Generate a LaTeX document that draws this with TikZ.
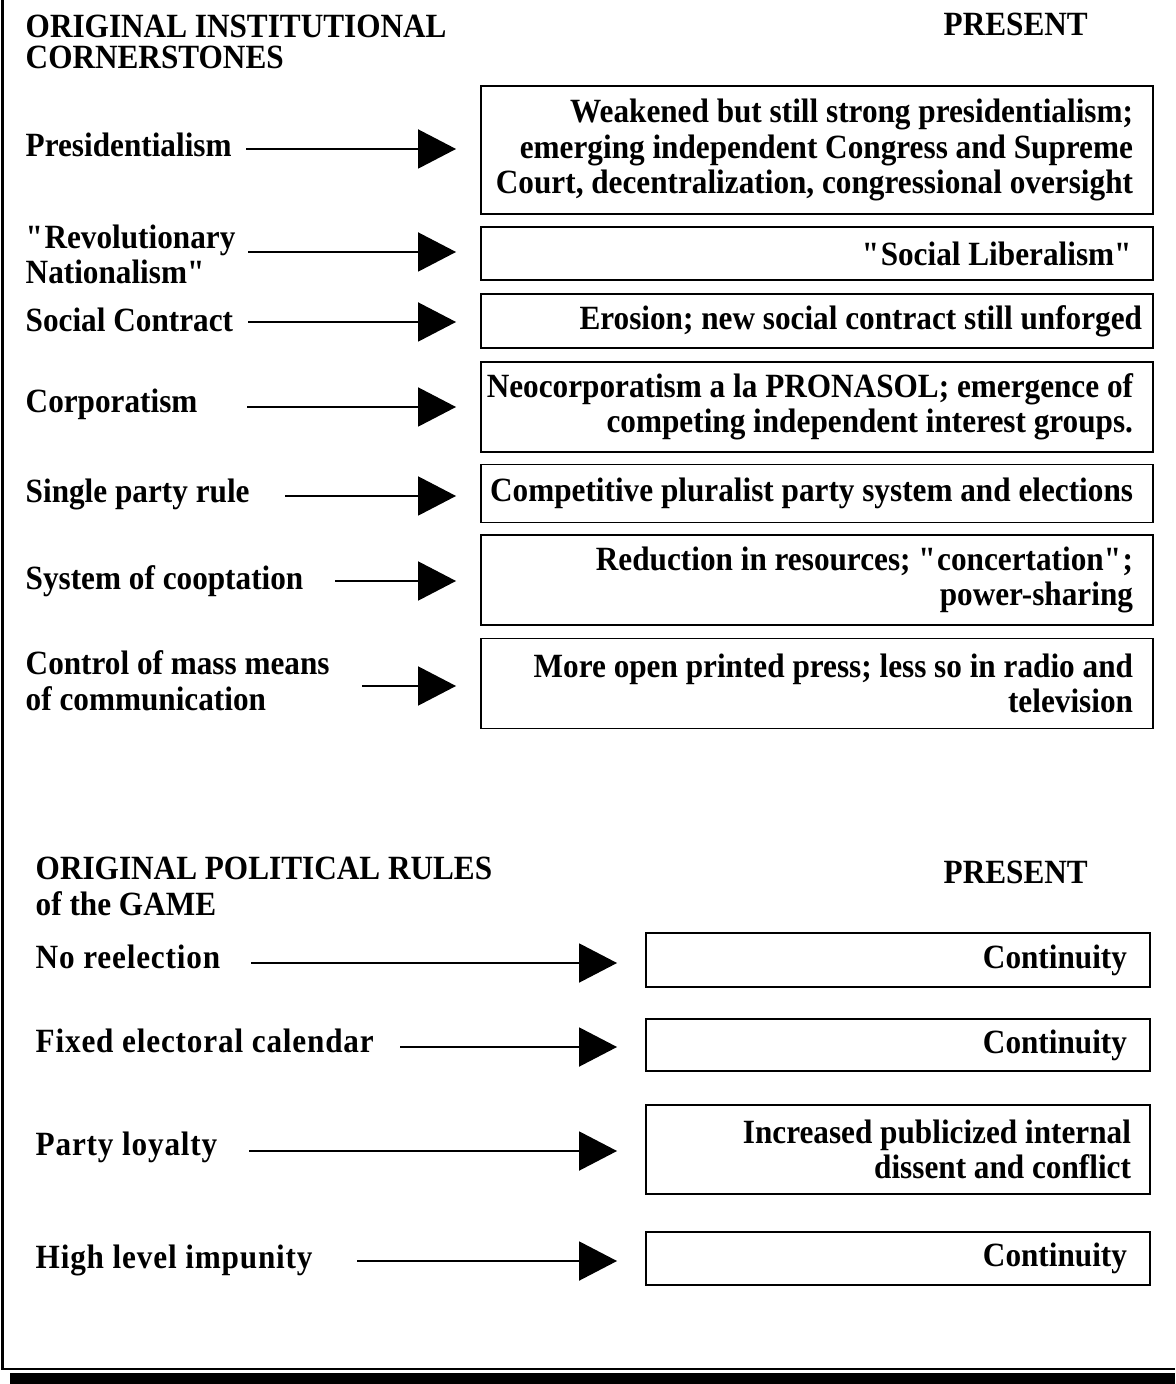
\documentclass[tikz,border=0pt]{standalone}
\usepackage{fontspec}
\setmainfont{Liberation Serif}[FakeStretch=0.92]
\usepackage{tikz}
\usetikzlibrary{arrows.meta}
\newcommand{\fitline}[1]{\makebox[\hsize][r]{#1}}
\newcommand{\q}{\textquotedbl}

\begin{document}
\begin{tikzpicture}[
  every node/.style={font=\bfseries\fontsize{9.66pt}{10pt}\selectfont, inner sep=0pt},
  heading/.style={anchor=base west, align=left},
  orig/.style={anchor=base west, align=left},
  gamerule/.style={orig, font=\bfseries\fontsize{9.66pt}{10pt}\selectfont\addfontfeature{LetterSpace=2.4}},
  present/.style={draw, line width=0.55pt, inner xsep=0.2cm, inner ysep=0pt,
    text width=6.32cm, align=flush right, minimum width=6.72cm},
  rulebox/.style={present, inner xsep=0.23cm, text width=4.58cm, minimum width=5.04cm},
  link/.style={-{Triangle[length=3.8mm,width=3.9mm]}, line width=0.55pt},
  ]
  \useasboundingbox (0,0) rectangle (11.75,-13.84);

  % Cadre
  \draw[line width=0.6pt] (0.025,0) -- (0.025,-13.69) -- (11.75,-13.69);
  \fill (0.10,-13.73) rectangle (11.75,-13.84);

  % Titres (haut)
  \node[heading] (hinst)  at (0.25,-0.69) {ORIGINAL INSTITUTIONAL\\[-1pt]CORNERSTONES};
  \node[heading] (hpres1) at (9.43,-0.36) {PRESENT};

  % Piliers d'origine
  \node[orig] (pres)  at (0.25,-1.57) {Presidentialism};
  \node[orig] (revn)  at (0.25,-2.84) {\q Revolutionary\\Nationalism\q};
  \node[orig] (soc)   at (0.25,-3.32) {Social Contract};
  \node[orig] (corp)  at (0.25,-4.13) {Corporatism};
  \node[orig] (party) at (0.25,-5.03) {Single party rule};
  \node[orig] (coopt) at (0.25,-5.90) {System of cooptation};
  \node[orig] (media) at (0.25,-7.10) {Control of mass means\\of communication};

  % Situation actuelle
  \node[present, minimum height=1.28cm] (b1) at (8.17,-1.50)
    {Weakened but still strong presidentialism;\\
     \fitline{emerging independent Congress and Supreme}\\
     \fitline{Court, decentralization, congressional oversight}};
  \node[present, minimum height=0.53cm] (b2) at (8.17,-2.535) {\q Social Liberalism\q};
  \node[present, minimum height=0.54cm] (b3) at (8.17,-3.21)
    {\fitline{Erosion; new social contract still unforged\kern-0.09cm}};
  \node[present, minimum height=0.90cm] (b4) at (8.17,-4.07)
    {\fitline{Neocorporatism a la PRONASOL; emergence of}\\
     competing independent interest groups.};
  \node[present, minimum height=0.58cm] (b5) at (8.17,-4.935)
    {\fitline{Competitive pluralist party system and elections}};
  \node[present, minimum height=0.90cm] (b6) at (8.17,-5.80)
    {Reduction in resources; \q concertation\q;\\power-sharing};
  \node[present, minimum height=0.90cm] (b7) at (8.17,-6.835)
    {More open printed press; less so in radio and\\television};

  % Fleches (haut)
  \coordinate (s1) at (2.46,-1.49);
  \coordinate (s2) at (2.48,-2.52);
  \coordinate (s3) at (2.48,-3.22);
  \coordinate (s4) at (2.47,-4.07);
  \coordinate (s5) at (2.85,-4.96);
  \coordinate (s6) at (3.35,-5.81);
  \coordinate (s7) at (3.62,-6.86);
  \draw[link, shorten >=2.4mm] (s1) -- (s1 -| b1.west);
  \draw[link, shorten >=2.4mm] (s2) -- (s2 -| b2.west);
  \draw[link, shorten >=2.4mm] (s3) -- (s3 -| b3.west);
  \draw[link, shorten >=2.4mm] (s4) -- (s4 -| b4.west);
  \draw[link, shorten >=2.4mm] (s5) -- (s5 -| b5.west);
  \draw[link, shorten >=2.4mm] (s6) -- (s6 -| b6.west);
  \draw[link, shorten >=2.4mm] (s7) -- (s7 -| b7.west);

  % Titres (bas)
  \node[heading] (hrules) at (0.35,-9.15) {ORIGINAL POLITICAL RULES\\of the GAME};
  \node[heading] (hpres2) at (9.43,-8.83) {PRESENT};

  % Regles du jeu
  \node[gamerule] (noreel) at (0.35,-9.68)  {No reelection};
  \node[gamerule] (calend) at (0.35,-10.52) {Fixed electoral calendar};
  \node[gamerule] (loyal)  at (0.35,-11.55) {Party loyalty};
  \node[gamerule] (impun)  at (0.35,-12.68) {High level impunity};

  \node[rulebox, minimum height=0.54cm] (r1) at (8.98,-9.60)   {Continuity};
  \node[rulebox, minimum height=0.52cm] (r2) at (8.98,-10.45)  {Continuity};
  \node[rulebox, minimum height=0.89cm] (r3) at (8.98,-11.495)
    {Increased publicized internal\kern-0.04cm\\dissent and conflict\kern-0.04cm};
  \node[rulebox, minimum height=0.53cm] (r4) at (8.98,-12.585) {Continuity};

  % Fleches (bas)
  \coordinate (t1) at (2.51,-9.63);
  \coordinate (t2) at (4.00,-10.47);
  \coordinate (t3) at (2.49,-11.51);
  \coordinate (t4) at (3.57,-12.61);
  \draw[link, shorten >=2.8mm] (t1) -- (t1 -| r1.west);
  \draw[link, shorten >=2.8mm] (t2) -- (t2 -| r2.west);
  \draw[link, shorten >=2.8mm] (t3) -- (t3 -| r3.west);
  \draw[link, shorten >=2.8mm] (t4) -- (t4 -| r4.west);
\end{tikzpicture}
\end{document}
